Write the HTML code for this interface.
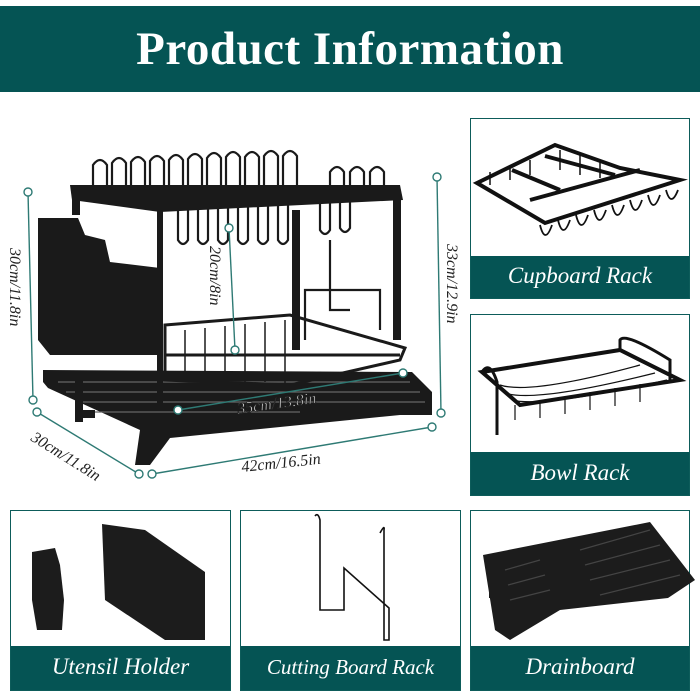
<!DOCTYPE html>
<html><head><meta charset="utf-8"><style>
*{margin:0;padding:0;box-sizing:border-box}
body{width:700px;height:700px;background:#fff;position:relative;overflow:hidden;font-family:"Liberation Serif",serif}
.banner{position:absolute;left:0;top:6px;width:700px;height:86px;background:#055454;color:#fff;font-weight:bold;font-size:47px;text-align:center;line-height:86px;letter-spacing:0.5px}
.box{position:absolute;border:1.5px solid #0d5c5a;background:#fff}
.lab{position:absolute;left:0;right:0;bottom:0;background:#055454;color:#fff;font-style:italic;text-align:center;font-size:23px}
svg{position:absolute;left:0;top:0}
</style></head><body>
<div class="banner">Product Information</div>

<div class="box" style="left:470px;top:118px;width:220px;height:181px"><div class="lab" style="height:42px;line-height:40px">Cupboard Rack</div></div>
<div class="box" style="left:470px;top:314px;width:220px;height:182px"><div class="lab" style="height:43px;line-height:41px">Bowl Rack</div></div>
<div class="box" style="left:10px;top:510px;width:221px;height:181px"><div class="lab" style="height:44px;line-height:42px">Utensil Holder</div></div>
<div class="box" style="left:240px;top:510px;width:221px;height:181px"><div class="lab" style="height:44px;line-height:42px;font-size:21px">Cutting Board Rack</div></div>
<div class="box" style="left:470px;top:510px;width:220px;height:181px"><div class="lab" style="height:44px;line-height:42px">Drainboard</div></div>

<svg width="700" height="700" viewBox="0 0 700 700">
<g fill="#1a1a1a" stroke="#1a1a1a">
<!-- drain tray -->
<polygon points="43,370 412,372 432,392 432,415 400,415 170,438 150,465 135,465 140,430 48,388 43,382" stroke="none"/>
<g stroke="#666" stroke-width="1.3" fill="none">
<line x1="58" y1="382" x2="410" y2="382"/><line x1="66" y1="392" x2="420" y2="392"/><line x1="78" y1="402" x2="425" y2="402"/><line x1="95" y1="412" x2="300" y2="412"/>
</g>
<!-- lower basket -->
<g fill="none" stroke-width="3">
<polygon points="165,325 290,315 405,348 400,360 290,385 165,380"/>
<line x1="165" y1="355" x2="400" y2="355"/>
<path d="M185,330 V378 M205,328 V378 M225,326 V380 M245,324 V382 M265,322 V382 M285,320 V384" stroke-width="1.5"/>
</g>
<!-- posts -->
<rect x="72" y="185" width="8" height="30" stroke="none"/>
<rect x="157" y="205" width="6" height="200" stroke="none"/>
<rect x="292" y="210" width="8" height="140" stroke="none"/>
<rect x="393" y="190" width="8" height="150" stroke="none"/>
<!-- top frame -->
<polygon points="70,185 400,185 403,200 160,212 72,200" stroke="none"/>
<g fill="none" stroke-width="2.2">
<path d="M93,185 V165 Q100,155 107,165 V200 M112,185 V163 Q119,153 126,163 V200 M131,185 V162 Q138,152 145,162 V200 M150,185 V161 Q157,151 164,161 V200 M169,185 V160 Q176,150 183,160 V200 M188,185 V159 Q195,149 202,159 V200 M207,185 V158 Q214,148 221,158 V200 M226,185 V157 Q233,147 240,157 V200 M245,185 V157 Q252,147 259,157 V200 M264,185 V156 Q271,146 278,156 V200 M283,185 V156 Q290,146 297,156 V200 M330,185 V172 Q337,162 344,172 V200 M350,185 V172 Q357,162 364,172 V200 M370,185 V172 Q377,162 384,172 V200"/>
<path d="M178,200 V240 Q183,248 188,240 V200 M198,200 V240 Q203,248 208,240 V200 M218,200 V240 Q223,248 228,240 V200 M238,200 V240 Q243,248 248,240 V200 M258,200 V240 Q263,248 268,240 V200 M278,200 V240 Q283,248 288,240 V200 M320,200 V230 Q325,238 330,230 V200 M340,200 V228 Q345,236 350,228 V200"/>
<path d="M305,340 V290 H380 V330 M330,240 V310 H350"/>
</g>
<!-- utensil holder -->
<polygon points="38,218 78,218 85,235 105,240 110,262 160,268 160,355 50,355 38,340" stroke="none"/>
<rect x="75" y="372" width="8" height="50" stroke="none"/>
<rect x="75" y="410" width="20" height="8" stroke="none"/>
</g>
<!-- dimension lines -->
<g stroke="#2e7a74" stroke-width="1.4" fill="#fff">
<line x1="28" y1="192" x2="33" y2="400"/><line x1="437" y1="177" x2="441" y2="413"/>
<line x1="152" y1="474" x2="432" y2="427"/><line x1="37" y1="412" x2="139" y2="474"/>
<line x1="229" y1="228" x2="235" y2="350"/><line x1="178" y1="410" x2="403" y2="373"/>
<circle cx="28" cy="192" r="4"/><circle cx="33" cy="400" r="4"/>
<circle cx="437" cy="177" r="4"/><circle cx="441" cy="413" r="4"/>
<circle cx="152" cy="474" r="4"/><circle cx="432" cy="427" r="4"/>
<circle cx="37" cy="412" r="4"/><circle cx="139" cy="474" r="4"/>
<circle cx="229" cy="228" r="4"/><circle cx="235" cy="350" r="4"/>
<circle cx="178" cy="410" r="4"/><circle cx="403" cy="373" r="4"/>
</g>
<g font-family="Liberation Serif,serif" font-style="italic" font-size="16" fill="#222">
<text transform="translate(10,248) rotate(90)">30cm/11.8in</text>
<text transform="translate(447,244) rotate(90)">33cm/12.9in</text>
<text transform="translate(210,246) rotate(90)">20cm/8in</text>
<text transform="translate(238,414) rotate(-8)" fill="#fff" stroke="#222" stroke-width="0.7">35cm/13.8in</text>
<text transform="translate(242,472) rotate(-6)">42cm/16.5in</text>
<text transform="translate(30,440) rotate(32)">30cm/11.8in</text>
</g>
<!-- cupboard rack -->
<g stroke="#111" stroke-width="4" fill="none">
<polygon points="477,183 555,145 620,168 680,180 545,223"/>
<line x1="545" y1="156" x2="615" y2="175"/><line x1="512" y1="170" x2="560" y2="190"/><line x1="530" y1="200" x2="640" y2="170"/>
<path d="M540,225 q5,20 12,0 M558,220 q5,20 12,0 M576,215 q5,20 12,0 M594,210 q5,20 12,0 M612,205 q5,20 12,0 M630,200 q5,20 12,0 M648,195 q5,20 12,0 M666,190 q5,18 12,0" stroke-width="1.8"/>
<path d="M490,185 V172 M510,180 V165 M530,175 V160 M560,170 V150 M580,175 V155 M600,178 V160" stroke-width="1.5"/>
</g>
<!-- bowl rack -->
<g stroke="#111" fill="none">
<polygon points="482,372 620,350 680,380 520,405" stroke-width="4"/>
<path d="M482,372 q8,-12 15,10 V435 M620,350 V340 q5,-8 50,20 V380" stroke-width="3"/>
<path d="M500,385 q30,10 140,-20 M505,393 q30,10 150,-20 M512,400 q30,8 155,-20 M515,405 V420 M540,400 V418 M565,396 V414 M590,392 V410 M615,388 V406 M640,384 V402" stroke-width="1.2"/>
</g>
<!-- utensil holder parts -->
<g fill="#1c1c1c">
<polygon points="32,552 55,548 60,565 64,600 62,630 37,630 32,600"/>
<polygon points="102,524 145,530 205,572 205,640 165,640 105,600"/>
</g>
<!-- cutting board rack -->
<g stroke="#111" stroke-width="1.6" fill="none">
<path d="M315,516 q3,-4 5,4 V610 H344 V568 L389,608 V640 H384 V530 q1,-6 -4,3"/>
</g>
<!-- drainboard -->
<g>
<polygon points="483,555 650,522 695,580 668,598 560,610 510,640 495,630 487,580" fill="#1c1c1c"/>
<rect x="489" y="590" width="12" height="8" fill="#1c1c1c"/>
<g stroke="#444" stroke-width="1.2"><line x1="505" y1="570" x2="540" y2="560"/><line x1="508" y1="585" x2="545" y2="575"/><line x1="510" y1="600" x2="550" y2="590"/><line x1="580" y1="550" x2="650" y2="530"/><line x1="585" y1="565" x2="660" y2="545"/><line x1="590" y1="580" x2="670" y2="560"/><line x1="600" y1="595" x2="680" y2="575"/></g>
</g>
</svg>
</body></html>
